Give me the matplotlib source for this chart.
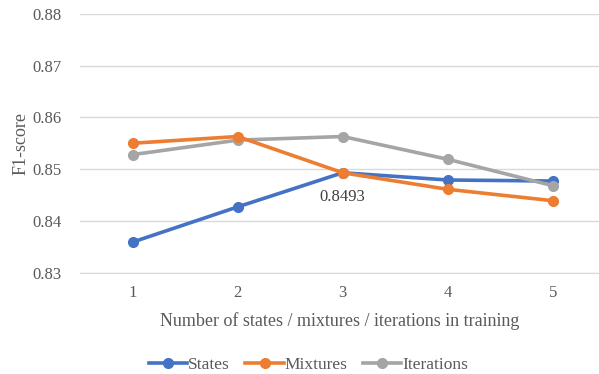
import matplotlib.pyplot as plt

plt.rcParams['font.family'] = ['Liberation Serif', 'DejaVu Serif']

# F1-score per setting (1..5) for each training parameter
x_vals = [1, 2, 3, 4, 5]
states = [0.8359, 0.8427, 0.8493, 0.8479, 0.8477]
mixtures = [0.8550, 0.8563, 0.8493, 0.8461, 0.8439]
iterations = [0.8528, 0.8556, 0.8563, 0.8519, 0.8468]
y_ticks = [0.83, 0.84, 0.85, 0.86, 0.87, 0.88]

text_color = '#595959'
grid_color = '#D9D9D9'

fig = plt.figure(figsize=(5.99, 3.74), dpi=100)
ax = fig.add_axes([0.1336, 0.271, 0.8664, 0.692])

ax.plot(x_vals, states, color='#4472C4', lw=2.6, marker='o', ms=7, label='States', zorder=3)
ax.plot(x_vals, mixtures, color='#ED7D31', lw=2.6, marker='o', ms=7, label='Mixtures', zorder=4)
ax.plot(x_vals, iterations, color='#A5A5A5', lw=2.6, marker='o', ms=7, label='Iterations', zorder=3)

ax.annotate(f'{states[2]:.4f}', (x_vals[2], states[2]), xytext=(0, -12),
            textcoords='offset points', ha='center', va='top', fontsize=12, color='#404040')

ax.set_xlim(0.5, 5.44)
ax.set_ylim(0.83, 0.88)
ax.set_xticks(x_vals)
ax.set_yticks(y_ticks)
ax.set_yticklabels([f'{v:.2f}' for v in y_ticks])
ax.grid(axis='y', color=grid_color, lw=1)
ax.set_axisbelow(True)
for s in ['top', 'right', 'left']:
    ax.spines[s].set_visible(False)
ax.spines['bottom'].set_color(grid_color)
ax.tick_params(axis='both', length=0, labelsize=12, colors=text_color)
ax.tick_params(axis='y', pad=13)
ax.tick_params(axis='x', pad=9)

ax.set_ylabel('F1-score', fontsize=13, color=text_color, labelpad=2)
ax.set_xlabel('Number of states / mixtures / iterations in training',
              fontsize=13, color=text_color, labelpad=8)

fig.legend(loc='center', bbox_to_anchor=(0.515, 0.025), ncol=3, frameon=False,
           fontsize=12.5, labelcolor=text_color, handlelength=2.2, handletextpad=0.05,
           columnspacing=0.9)

fig.savefig('out.png', dpi=100)
